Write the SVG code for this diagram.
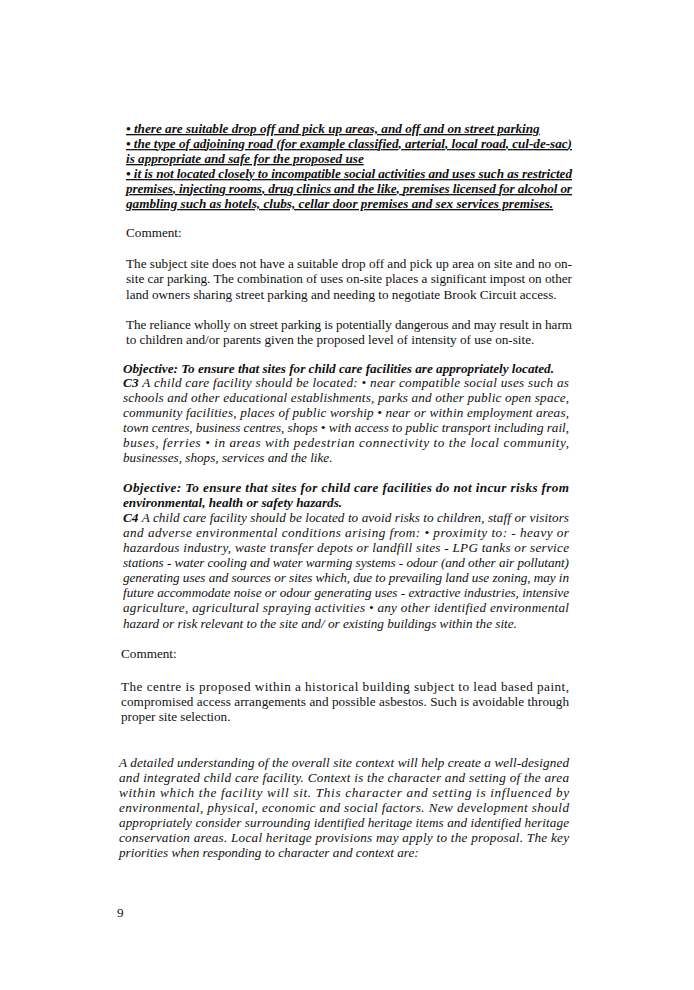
<svg xmlns="http://www.w3.org/2000/svg" width="694" height="990" viewBox="0 0 694 990">
<style>
text{font-family:"Liberation Serif","Times New Roman",serif;font-size:13.2px;fill:#111}
.bu{font-weight:bold;font-style:italic;text-decoration:underline}
.i{font-style:italic}
.bi{font-weight:bold;font-style:italic}
</style>
<rect width="694" height="990" fill="#fff"/>
<g id="criteria">
<text class="bu" x="126" y="133">• there are suitable drop off and pick up areas, and off and on street parking</text>
<text class="bu" x="126" y="148" textLength="446" lengthAdjust="spacing">• the type of adjoining road (for example classified, arterial, local road, cul-de-sac)</text>
<text class="bu" x="126" y="163">is appropriate and safe for the proposed use</text>
<text class="bu" x="126" y="178" textLength="446" lengthAdjust="spacing">• it is not located closely to incompatible social activities and uses such as restricted</text>
<text class="bu" x="126" y="193" textLength="446" lengthAdjust="spacing">premises, injecting rooms, drug clinics and the like, premises licensed for alcohol or</text>
<text class="bu" x="126" y="208">gambling such as hotels, clubs, cellar door premises and sex services premises.</text>
</g>
<g id="comment1">
<text x="126" y="237">Comment:</text>
<text x="126" y="268" textLength="446" lengthAdjust="spacing">The subject site does not have a suitable drop off and pick up area on site and no on-</text>
<text x="126" y="283" textLength="446" lengthAdjust="spacing">site car parking. The combination of uses on-site places a significant impost on other</text>
<text x="126" y="299">land owners sharing street parking and needing to negotiate Brook Circuit access.</text>
<text x="126" y="329" textLength="446" lengthAdjust="spacing">The reliance wholly on street parking is potentially dangerous and may result in harm</text>
<text x="126" y="344">to children and/or parents given the proposed level of intensity of use on-site.</text>
</g>
<g id="c3">
<text class="bi" x="123" y="373">Objective: To ensure that sites for child care facilities are appropriately located.</text>
<text class="i" x="123" y="387" textLength="446" lengthAdjust="spacing"><tspan font-weight="bold">C3</tspan> A child care facility should be located: • near compatible social uses such as</text>
<text class="i" x="123" y="402" textLength="446" lengthAdjust="spacing">schools and other educational establishments, parks and other public open space,</text>
<text class="i" x="123" y="417" textLength="446" lengthAdjust="spacing">community facilities, places of public worship • near or within employment areas,</text>
<text class="i" x="123" y="432" textLength="446" lengthAdjust="spacing">town centres, business centres, shops • with access to public transport including rail,</text>
<text class="i" x="123" y="447" textLength="446" lengthAdjust="spacing">buses, ferries • in areas with pedestrian connectivity to the local community,</text>
<text class="i" x="123" y="462">businesses, shops, services and the like.</text>
</g>
<g id="c4">
<text class="bi" x="123" y="492" textLength="446" lengthAdjust="spacing">Objective: To ensure that sites for child care facilities do not incur risks from</text>
<text class="bi" x="123" y="507">environmental, health or safety hazards.</text>
<text class="i" x="123" y="522" textLength="446" lengthAdjust="spacing"><tspan font-weight="bold">C4</tspan> A child care facility should be located to avoid risks to children, staff or visitors</text>
<text class="i" x="123" y="537" textLength="446" lengthAdjust="spacing">and adverse environmental conditions arising from: • proximity to: - heavy or</text>
<text class="i" x="123" y="552" textLength="446" lengthAdjust="spacing">hazardous industry, waste transfer depots or landfill sites - LPG tanks or service</text>
<text class="i" x="123" y="567" textLength="446" lengthAdjust="spacing">stations - water cooling and water warming systems - odour (and other air pollutant)</text>
<text class="i" x="123" y="582" textLength="446" lengthAdjust="spacing">generating uses and sources or sites which, due to prevailing land use zoning, may in</text>
<text class="i" x="123" y="597" textLength="446" lengthAdjust="spacing">future accommodate noise or odour generating uses - extractive industries, intensive</text>
<text class="i" x="123" y="612" textLength="446" lengthAdjust="spacing">agriculture, agricultural spraying activities • any other identified environmental</text>
<text class="i" x="123" y="628">hazard or risk relevant to the site and/ or existing buildings within the site.</text>
</g>
<g id="comment2">
<text x="121" y="658">Comment:</text>
<text x="121" y="691" textLength="448" lengthAdjust="spacing">The centre is proposed within a historical building subject to lead based paint,</text>
<text x="121" y="706" textLength="448" lengthAdjust="spacing">compromised access arrangements and possible asbestos. Such is avoidable through</text>
<text x="121" y="721">proper site selection.</text>
</g>
<g id="context">
<text class="i" x="119" y="767" textLength="450" lengthAdjust="spacing">A detailed understanding of the overall site context will help create a well-designed</text>
<text class="i" x="119" y="782" textLength="450" lengthAdjust="spacing">and integrated child care facility. Context is the character and setting of the area</text>
<text class="i" x="119" y="797" textLength="450" lengthAdjust="spacing">within which the facility will sit. This character and setting is influenced by</text>
<text class="i" x="119" y="812" textLength="450" lengthAdjust="spacing">environmental, physical, economic and social factors. New development should</text>
<text class="i" x="119" y="827" textLength="450" lengthAdjust="spacing">appropriately consider surrounding identified heritage items and identified heritage</text>
<text class="i" x="119" y="842" textLength="450" lengthAdjust="spacing">conservation areas. Local heritage provisions may apply to the proposal. The key</text>
<text class="i" x="119" y="857">priorities when responding to character and context are:</text>
</g>
<text x="117" y="917">9</text>
</svg>
